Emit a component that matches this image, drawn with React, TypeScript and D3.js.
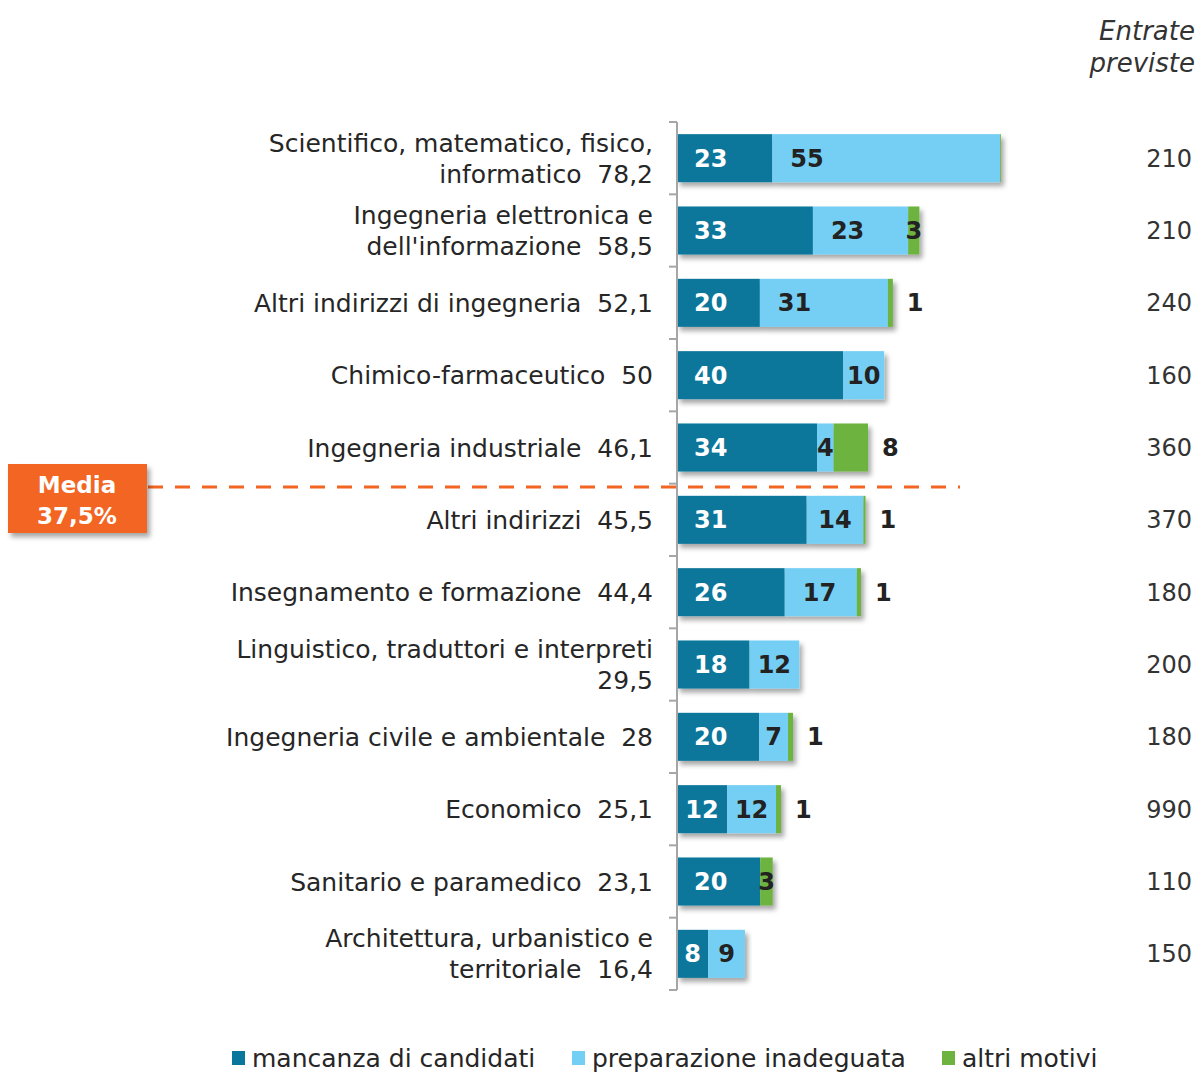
import * as d3 from 'd3';

// categories: label lines, value shown after the last line
const categoryLines: string[][] = [
  ['Scientifico, matematico, fisico,', 'informatico'],
  ['Ingegneria elettronica e', "dell'informazione"],
  ['Altri indirizzi di ingegneria'],
  ['Chimico-farmaceutico'],
  ['Ingegneria industriale'],
  ['Altri indirizzi'],
  ['Insegnamento e formazione'],
  ['Linguistico, traduttori e interpreti', ''],
  ['Ingegneria civile e ambientale'],
  ['Economico'],
  ['Sanitario e paramedico'],
  ['Architettura, urbanistico e', 'territoriale'],
];
const totalLabels = ['78,2', '58,5', '52,1', '50', '46,1', '45,5', '44,4', '29,5', '28', '25,1', '23,1', '16,4'];

const mancanza = [23.0, 32.8, 20.0, 40.1, 33.8, 31.3, 26.0, 17.5, 19.8, 12.1, 20.1, 7.5];
const preparazione = [55.0, 23.0, 30.9, 9.9, 4.0, 13.7, 17.4, 12.0, 7.0, 11.8, 0, 8.9];
const altri = [0.2, 2.7, 1.2, 0, 8.3, 0.5, 1.0, 0, 1.2, 1.2, 3.0, 0];

const entrate = [210, 210, 240, 160, 360, 370, 180, 200, 180, 990, 110, 150];

const media = 37.5;
const seriesNames = ['mancanza di candidati', 'preparazione inadeguata', 'altri motivi'];
const colors = ['#0b769b', '#74cff4', '#6db33f'];

const W = 1198, H = 1075;
const AXIS_X = 677;
const FONT = "'DejaVu Sans', sans-serif";

const measureCtx = typeof document !== 'undefined' ? document.createElement('canvas').getContext('2d') : null;
function textW(t: string, font: string) {
  if (!measureCtx) return t.length * 12;
  measureCtx.font = font;
  return measureCtx.measureText(t).width;
}

export default function App() {
  const idx = d3.range(categoryLines.length);
  const y = d3.scaleBand<number>().domain(idx).range([122, 990]).paddingInner(0.336).paddingOuter(0.168);
  const x = d3.scaleLinear().domain([0, 78.2]).range([AXIS_X, AXIS_X + 324]);
  const stacked = d3.stack<number>().keys(['0', '1', '2']).value((i, k) => [mancanza, preparazione, altri][+k][i])(idx);
  const bw = y.bandwidth();
  const labelSize = 24;
  const labelFont = `bold ${labelSize}px ${FONT}`;
  const mediaY = 487;

  return (
    <div style={{ position: 'absolute', left: 0, top: 0 }}>
      <svg width={W} height={H} style={{ display: 'block', background: '#fff' }}>
        <defs>
          <filter id="shadow" x="-5%" y="-20%" width="115%" height="160%">
            <feDropShadow dx="3" dy="4" stdDeviation="2.5" floodColor="#000" floodOpacity="0.35" />
          </filter>
        </defs>

        {/* header */}
        <text x={1195} y={40} textAnchor="end" fontFamily={FONT} fontStyle="italic" fontSize={26} fill="#333">Entrate</text>
        <text x={1195} y={72} textAnchor="end" fontFamily={FONT} fontStyle="italic" fontSize={26} fill="#333">previste</text>

        {/* bars */}
        {idx.map(i => (
          <g key={i} filter="url(#shadow)">
            {stacked.map((s, k) => {
              const [a, b] = s[i];
              if (b - a <= 0) return null;
              return <rect key={k} x={x(a)} y={y(i)!} width={x(b) - x(a)} height={bw} fill={colors[k]} />;
            })}
          </g>
        ))}

        {/* axis */}
        <g stroke="#a6a6a6" strokeWidth={2}>
          <line x1={AXIS_X} x2={AXIS_X} y1={122} y2={990} />
          {d3.range(categoryLines.length + 1).map(j => {
            const ty = 122 + j * y.step();
            return <line key={j} x1={AXIS_X - 8} x2={AXIS_X} y1={ty} y2={ty} />;
          })}
        </g>

        {/* segment labels */}
        {idx.map(i => {
          const cy = y(i)! + bw / 2;
          return stacked.map((s, k) => {
            const [a, b] = s[i];
            const v = b - a;
            const r = Math.round(v);
            if (r < 1) return null;
            const txt = String(r);
            const w = textW(txt, labelFont);
            const x0 = x(a), x1 = x(b), segW = x1 - x0;
            let tx: number;
            if (k === 0) {
              tx = segW >= w + 34 ? x0 + 17 : x0 + segW / 2 - w / 2;
            } else if (k === 1) {
              tx = segW >= w + 30 ? x0 + 18 : x0 + segW / 2 - w / 2;
            } else {
              tx = segW >= 8 && segW <= 20 ? x0 + segW / 2 - w / 2 : x1 + 14;
            }
            return (
              <text key={`${i}-${k}`} x={tx} y={cy} dy="0.36em" fontFamily={FONT} fontWeight="bold" fontSize={labelSize}
                fill={k === 0 ? '#fff' : '#222'}>{txt}</text>
            );
          });
        })}

        {/* category labels */}
        {idx.map(i => {
          const lines = categoryLines[i];
          const cy = y(i)! + bw / 2;
          const lh = 31;
          const top = cy - ((lines.length - 1) * lh) / 2;
          return (
            <text key={i} x={653} textAnchor="end" fontFamily={FONT} fontSize={25} fill="#262626" style={{ whiteSpace: 'pre' }}>
              {lines.map((l, j) => (
                <tspan key={j} x={653} y={top + j * lh} dy="0.36em">
                  {j === lines.length - 1 ? (l ? `${l}  ${totalLabels[i]}` : totalLabels[i]) : l}
                </tspan>
              ))}
            </text>
          );
        })}

        {/* entrate previste */}
        {idx.map(i => (
          <text key={i} x={1192} y={y(i)! + bw / 2} dy="0.36em" textAnchor="end" fontFamily={FONT} fontSize={24} fill="#333">{entrate[i]}</text>
        ))}

        {/* media */}
        <line x1={148} x2={960} y1={mediaY} y2={mediaY} stroke="#f26522" strokeWidth={3} strokeDasharray="15 12" />
        <g filter="url(#shadow)">
          <rect x={8} y={464} width={139} height={69} fill="#f26522" />
        </g>
        <text x={77} y={485} dy="0.36em" textAnchor="middle" fontFamily={FONT} fontWeight="bold" fontSize={23} fill="#fff">Media</text>
        <text x={77} y={516} dy="0.36em" textAnchor="middle" fontFamily={FONT} fontWeight="bold" fontSize={23} fill="#fff">{`${String(media).replace('.', ',')}%`}</text>

        {/* legend */}
        {seriesNames.map((n, k) => {
          const lx = [232, 572, 942][k];
          return (
            <g key={n}>
              <rect x={lx} y={1051} width={13} height={14} fill={colors[k]} />
              <text x={lx + 20} y={1067} fontFamily={FONT} fontSize={25} fill="#262626">{n}</text>
            </g>
          );
        })}
      </svg>
    </div>
  );
}
